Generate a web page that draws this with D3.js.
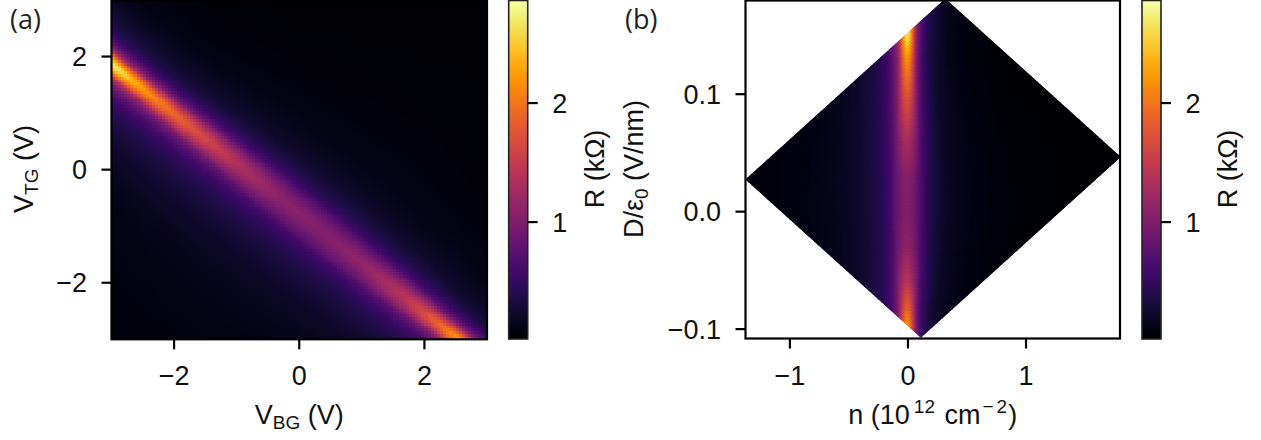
<!DOCTYPE html>
<html><head><meta charset="utf-8">
<script src="https://cdn.jsdelivr.net/npm/d3@7"></script>
<style>
body{margin:0;background:#fff}
svg{display:block}
text{font-family:"Liberation Sans",Arial,sans-serif;fill:#111}
</style>
</head><body>
<svg id="c" width="1261" height="440"></svg>
<script>
// ---------------- data ----------------
const vbgTicks = [-2, 0, 2];
const vtgTicks = [-2, 0, 2];
const nTicks = [-1, 0, 1];
const dTicks = [-0.1, 0.0, 0.1];
const rTicks = [1, 2];
const vbgRange = [-3, 3];
const vtgRange = [-3, 3];
const nRange = [-1.376, 1.796];
const dRange = [-0.108, 0.1802];
const rRange = [0.015, 2.866];
// gate -> (n, D) conversion: value = c0 + c1*V_BG + c2*V_TG
const nCoef = [0.213, 0.247, 0.2815];
const dCoef = [0.037, -0.0224, 0.0256];
// peak resistance (kOhm) along charge neutrality vs D (V/nm)
const peakD = [-0.108, -0.095, -0.08, -0.06, -0.03, 0.0, 0.03, 0.06, 0.09, 0.11, 0.13, 0.15, 0.181];
const peakR = [2.3, 2.2, 1.85, 1.45, 1.15, 1.05, 1.1, 1.35, 1.7, 1.95, 2.25, 2.75, 2.85];
const peakW = [1.0, 1.05, 1.2, 1.6, 2.0, 2.3, 2.2, 1.8, 1.45, 1.25, 1.1, 1.0, 1.0];
// line-shape (fraction of peak) vs |n| offset (1e12 cm^-2)
const profOffset = [0, 0.02, 0.045, 0.065, 0.09, 0.12, 0.16, 0.22, 0.32, 0.45, 0.7, 1.1, 2, 4];
const profNeg = [1, 0.93, 0.75, 0.55, 0.42, 0.32, 0.24, 0.17, 0.11, 0.065, 0.03, 0.012, 0.003, 0];
const profPos = [1, 0.9, 0.68, 0.47, 0.33, 0.23, 0.15, 0.1, 0.055, 0.028, 0.01, 0.003, 0, 0];
const bgR = 0.03;
const gridN = 120;

// ---------------- model lookups (piecewise-linear scales) ----------------
const peakScale = d3.scaleLinear().domain(peakD).range(peakR).clamp(true);
const widthScale = d3.scaleLinear().domain(peakD).range(peakW).clamp(true);
const negScale = d3.scaleLinear().domain(profOffset).range(profNeg).clamp(true);
const posScale = d3.scaleLinear().domain(profOffset).range(profPos).clamp(true);
const toN = (b, t) => nCoef[0] + nCoef[1] * b + nCoef[2] * t;
const toD = (b, t) => dCoef[0] + dCoef[1] * b + dCoef[2] * t;
function resist(b, t) {
  const n = toN(b, t), D = toD(b, t);
  const w = widthScale(D);
  const f = n < 0 ? negScale(-n / w) : posScale(n / w);
  return bgR + (peakScale(D) - bgR) * f;
}
const cells = [];
const step = (vbgRange[1] - vbgRange[0]) / gridN;
for (let i = 0; i < gridN; i++) {
  for (let j = 0; j < gridN; j++) {
    const b0 = vbgRange[0] + i * step, b1 = b0 + step;
    const t0 = vtgRange[0] + j * step, t1 = t0 + step;
    cells.push({b0, b1, t0, t1, r: resist((b0 + b1) / 2, (t0 + t1) / 2)});
  }
}

// ---------------- layout ----------------
const svg = d3.select("#c");
const color = d3.scaleSequential(d3.interpolateInferno).domain(rRange);
const FS = 27, SUB = 19, LW = 2.2, TL = 10;

const A = {x0: 111.5, x1: 487, y0: 0, y1: 339.3};
const B = {x0: 745.5, x1: 1120, y0: 0, y1: 338.5};
const xA = d3.scaleLinear().domain(vbgRange).range([A.x0, A.x1]);
const yA = d3.scaleLinear().domain(vtgRange).range([A.y1, A.y0]);
const xB = d3.scaleLinear().domain(nRange).range([B.x0, B.x1]);
const yB = d3.scaleLinear().domain(dRange).range([B.y1, B.y0]);

const defs = svg.append("defs");
defs.append("clipPath").attr("id", "clipA").append("rect")
  .attr("x", A.x0).attr("y", A.y0).attr("width", A.x1 - A.x0).attr("height", A.y1 - A.y0);
defs.append("clipPath").attr("id", "clipB").append("rect")
  .attr("x", B.x0).attr("y", B.y0).attr("width", B.x1 - B.x0).attr("height", B.y1 - B.y0);

// panel (a) heatmap
svg.append("g").attr("clip-path", "url(#clipA)").attr("shape-rendering", "crispEdges")
  .selectAll("rect").data(cells).join("rect")
  .attr("x", d => xA(d.b0)).attr("y", d => yA(d.t1))
  .attr("width", d => xA(d.b1) - xA(d.b0) + 0.5).attr("height", d => yA(d.t0) - yA(d.t1) + 0.5)
  .attr("fill", d => color(d.r));

// panel (b) transformed map
const corner = (b, t) => [xB(toN(b, t)), yB(toD(b, t))];
const gB = svg.append("g").attr("clip-path", "url(#clipB)");
const outline = [corner(vbgRange[0], vtgRange[0]), corner(vbgRange[1], vtgRange[0]),
                 corner(vbgRange[1], vtgRange[1]), corner(vbgRange[0], vtgRange[1])];
gB.append("path").attr("d", "M" + outline.map(p => p.join(",")).join("L") + "Z")
  .attr("fill", color(bgR));
gB.selectAll("path.cell").data(cells).join("path").attr("class", "cell")
  .attr("d", d => "M" + [corner(d.b0, d.t0), corner(d.b1, d.t0), corner(d.b1, d.t1), corner(d.b0, d.t1)].map(p => p.join(",")).join("L") + "Z")
  .attr("fill", d => color(d.r)).attr("stroke", d => color(d.r)).attr("stroke-width", 0.8);

// frames
function frame(P) {
  svg.append("rect").attr("x", P.x0).attr("y", P.y0 + (P.y0 === 0 ? 0.5 : 0))
    .attr("width", P.x1 - P.x0).attr("height", P.y1 - P.y0 - 0.5)
    .attr("fill", "none").attr("stroke", "#000").attr("stroke-width", LW);
}
frame(A); frame(B);

const fmtInt = d3.format("d");
const fmtD = d3.format(".1f");
function xTicks(scale, ticks, yAxis, fmt) {
  const g = svg.append("g");
  ticks.forEach(v => {
    const x = scale(v);
    g.append("line").attr("x1", x).attr("x2", x).attr("y1", yAxis).attr("y2", yAxis + TL)
      .attr("stroke", "#000").attr("stroke-width", LW);
    g.append("text").attr("x", x).attr("y", 385).attr("text-anchor", "middle")
      .attr("font-size", FS).text(fmt(v));
  });
}
function yTicks(scale, ticks, xAxis, fmt, side) {
  const g = svg.append("g");
  ticks.forEach(v => {
    const y = scale(v);
    const x2 = side === "left" ? xAxis - TL : xAxis + TL;
    g.append("line").attr("x1", xAxis).attr("x2", x2).attr("y1", y).attr("y2", y)
      .attr("stroke", "#000").attr("stroke-width", LW);
    g.append("text").attr("x", side === "left" ? x2 - 14.5 : x2 + 14.5).attr("y", y + 9.7)
      .attr("text-anchor", side === "left" ? "end" : "start")
      .attr("font-size", FS).text(fmt(v));
  });
}
xTicks(xA, vbgTicks, A.y1, fmtInt);
yTicks(yA, vtgTicks, A.x0, fmtInt, "left");
xTicks(xB, nTicks, B.y1, fmtInt);
yTicks(yB, dTicks, B.x0, fmtD, "left");

// colorbars
const grad = defs.append("linearGradient").attr("id", "inf").attr("x1", 0).attr("y1", 1).attr("x2", 0).attr("y2", 0);
d3.range(0, 1.0001, 0.02).forEach(t => grad.append("stop").attr("offset", t).attr("stop-color", d3.interpolateInferno(t)));
function colorbar(x0, x1, labelX) {
  const cy = d3.scaleLinear().domain(rRange).range([339.3, 0]);
  svg.append("rect").attr("x", x0).attr("y", 0.5).attr("width", x1 - x0).attr("height", 338.5)
    .attr("fill", "url(#inf)").attr("stroke", "#222").attr("stroke-width", 1.6);
  yTicks(cy, rTicks, x1, fmtInt, "right");
  svg.append("text").attr("transform", `translate(${labelX},169) rotate(-90)`)
    .attr("text-anchor", "middle").attr("font-size", FS).text("R (kΩ)");
}
colorbar(508.7, 527.7, 604);
colorbar(1142, 1161, 1237);

// axis labels
const xl = svg.append("text").attr("x", (A.x0 + A.x1) / 2).attr("y", 424).attr("text-anchor", "middle").attr("font-size", FS);
xl.append("tspan").text("V");
xl.append("tspan").attr("font-size", SUB).attr("dy", 5).text("BG");
xl.append("tspan").attr("dy", -5).text(" (V)");

const yl = svg.append("text").attr("transform", "translate(33,169) rotate(-90)").attr("text-anchor", "middle").attr("font-size", FS);
yl.append("tspan").text("V");
yl.append("tspan").attr("font-size", SUB).attr("dy", 5).text("TG");
yl.append("tspan").attr("dy", -5).text(" (V)");

const nl = svg.append("text").attr("x", (B.x0 + B.x1) / 2).attr("y", 424).attr("text-anchor", "middle").attr("font-size", FS);
nl.append("tspan").text("n (10");
nl.append("tspan").attr("font-size", SUB).attr("dy", -11).attr("dx", 4).text("12");
nl.append("tspan").attr("dy", 11).attr("dx", 2).text(" cm");
nl.append("tspan").attr("font-size", SUB).attr("dy", -11).attr("dx", 2).text("−");
nl.append("tspan").attr("font-size", SUB).attr("dx", 3).text("2");
nl.append("tspan").attr("dy", 11).attr("dx", 1).text(")");

const dl = svg.append("text").attr("transform", "translate(643,169) rotate(-90)").attr("text-anchor", "middle").attr("font-size", FS);
dl.append("tspan").text("D/ε");
dl.append("tspan").attr("font-size", SUB).attr("dy", 5).text("0");
dl.append("tspan").attr("dy", -5).text(" (V/nm)");

// panel letters
svg.append("text").attr("x", 10).attr("y", 29).attr("font-size", 27)
  .style("font-family", "'Open Sans', sans-serif").style("fill", "#231f20").text("(a)");
svg.append("text").attr("x", 625).attr("y", 29).attr("font-size", 27)
  .style("font-family", "'Open Sans', sans-serif").style("fill", "#231f20").text("(b)");
</script>
</body></html>
